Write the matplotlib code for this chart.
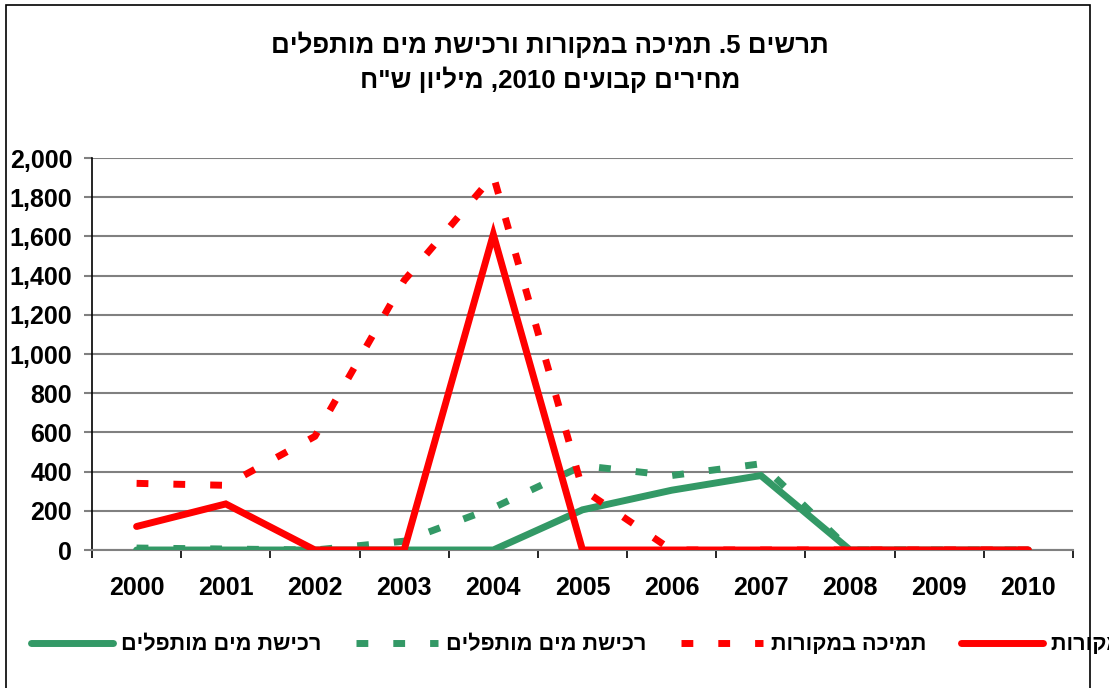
import numpy as np
import matplotlib
matplotlib.use("Agg")
import matplotlib.pyplot as plt
from matplotlib.patches import Rectangle

plt.rcParams['font.family'] = ['Liberation Sans', 'DejaVu Sans']
plt.rcParams['font.weight'] = 'bold'

years = ['2000', '2001', '2002', '2003', '2004', '2005', '2006', '2007', '2008', '2009', '2010']
support_solid = [120, 235, 0, 0, 1610, 0, 0, 0, 0, 0, 0]
support_dash = [340, 330, 580, 1375, 1910, 310, 0, 0, 0, 0, 0]
desal_dash = [10, 5, 0, 45, 215, 430, 380, 440, 0, 0, 0]
desal_solid = [0, 0, 0, 0, 0, 205, 305, 380, 0, 0, 0]
yticks = [0, 200, 400, 600, 800, 1000, 1200, 1400, 1600, 1800, 2000]

title1 = 'תרשים 5. תמיכה במקורות ורכישת מים מותפלים'
title2 = 'מחירים קבועים 2010, מיליון ש"ח'
lab_support = 'תמיכה במקורות'
lab_desal = 'רכישת מים מותפלים'


def vis(s):
    # crude right-to-left reordering, matplotlib has no bidi
    out = []
    for w in s.split(' ')[::-1]:
        if any('\u0590' <= c <= '\u05ff' for c in w):
            out.append(w[::-1])
        elif w and not w[-1].isalnum():
            out.append(w[-1] + w[:-1])
        else:
            out.append(w)
    return ' '.join(out)


red = '#FF0000'
green = '#339966'
grey = '#808080'
lw = 5.0
dash = (1.7, 3.6)
px = 0.72  # points per pixel at dpi 100

fig = plt.figure(figsize=(11.09, 6.88), dpi=100)
ax = fig.add_axes([92/1109, 1-550/688, (1073-92)/1109, (550-158)/688])

x = np.arange(len(years))
ax.plot(x, desal_solid, color=green, lw=lw, solid_joinstyle='miter', solid_capstyle='round',
        label=vis(lab_desal), zorder=3)
ax.plot(x, desal_dash, color=green, lw=lw, dashes=dash, dash_capstyle='butt',
        label=vis(lab_desal), zorder=3)
ax.plot(x, support_dash, color=red, lw=lw, dashes=dash, dash_capstyle='butt',
        label=vis(lab_support), zorder=4)
ax.plot(x, support_solid, color=red, lw=lw, solid_joinstyle='miter', solid_capstyle='round',
        label=vis(lab_support), zorder=4)

ax.set_xlim(-0.5, len(years) - 0.5)
ax.set_ylim(0, 2000)
ax.set_yticks(yticks)
ax.set_yticklabels([f'{v:,}' for v in yticks], fontsize=18, fontweight='bold')
ax.set_xticks(x)
ax.set_xticklabels(years, fontsize=18, fontweight='bold')
ax.set_xticks(np.arange(-0.5, len(years)), minor=True)
ax.tick_params(axis='x', which='major', length=0, pad=19)
ax.tick_params(axis='x', which='minor', length=8*px, width=1.2, color='black', direction='out')
ax.tick_params(axis='y', length=8*px, width=1.5, color=grey, pad=8.5)
ax.grid(axis='y', color=grey, lw=1.5, zorder=1)
for s in ['top', 'right']:
    ax.spines[s].set_visible(False)
ax.spines['bottom'].set_color(grey)
ax.spines['bottom'].set_linewidth(1.5)
ax.spines['left'].set_color('black')
ax.spines['left'].set_linewidth(1.2)
ax.spines['left'].set_bounds(0, 2000)

fig.text(550/1109, 1-45/688, vis(title1), ha='center', va='center', fontsize=18.6, fontweight='bold')
fig.text(550/1109, 1-80/688, vis(title2), ha='center', va='center', fontsize=18.6, fontweight='bold')

leg = fig.legend(loc='center left', bbox_to_anchor=(31/1109, 1-645/688), ncol=4,
                 frameon=False, fontsize=15.6, handlelength=3.8, handletextpad=0.35,
                 columnspacing=1.6, borderaxespad=0, borderpad=0)
for t in leg.get_texts():
    t.set_fontweight('bold')

fig.patches.append(Rectangle((6/1109, -0.1), (1090-6)/1109, 1.1-5/688, transform=fig.transFigure,
                             fill=False, edgecolor='black', lw=1.2))

fig.savefig('out.png', dpi=100)
